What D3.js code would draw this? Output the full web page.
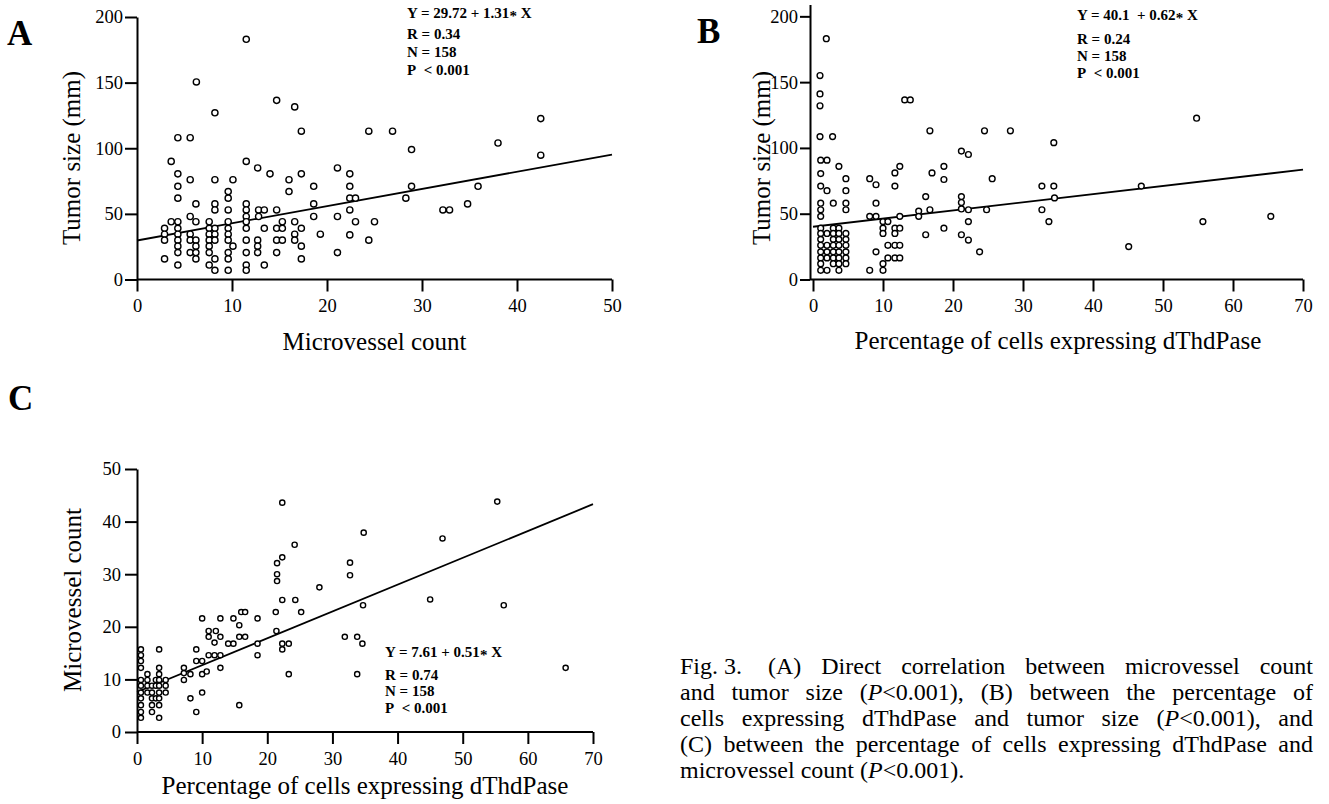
<!DOCTYPE html>
<html>
<head>
<meta charset="utf-8">
<script src="https://cdn.jsdelivr.net/npm/d3@7"></script>
<style>
  body { margin: 0; background: #fff; }
  text { font-family: "Liberation Serif", "Times New Roman", serif; fill: #000; }
</style>
</head>
<body>
<script>
// Canvas size
const w = 1329;
const h = 804;

// Panel A: microvessel count (x) vs tumor size in mm (y)
const panelAPoints = [
  [11.5, 183], [6.25, 150.5], [8.2, 127], [14.7, 136.5], [16.6, 131.5], [17.3, 113],
  [4.3, 108], [5.6, 108], [3.6, 90], [11.5, 90], [12.7, 85], [14.0, 80.5], [4.3, 80.5],
  [17.3, 80.5], [5.6, 76], [8.2, 76], [10.1, 76], [16.0, 76], [4.3, 71], [18.6, 71],
  [9.6, 67], [16.0, 67], [4.3, 62], [9.6, 62], [6.2, 57.6], [8.2, 57.6], [11.5, 57.6],
  [18.6, 57.6], [8.2, 53], [9.6, 53], [11.5, 53], [12.8, 53], [13.4, 53], [14.7, 53],
  [18.6, 48], [5.6, 48], [11.5, 48], [12.8, 48], [3.6, 44], [4.3, 44], [6.2, 44],
  [7.6, 44], [9.6, 44], [11.5, 44], [15.3, 44], [16.6, 44], [2.9, 39], [4.3, 39],
  [7.6, 39], [8.2, 39], [9.6, 39], [11.5, 39], [13.4, 39], [14.7, 39], [15.3, 39],
  [17.3, 39], [2.9, 34.5], [4.3, 34.5], [5.6, 34.5], [7.6, 34.5], [8.2, 34.5], [9.6, 34.5],
  [16.6, 34.5], [19.3, 34.5], [2.9, 30], [4.3, 30], [5.6, 30], [6.2, 30], [7.6, 30],
  [8.2, 30], [9.6, 30], [11.5, 30], [12.7, 30], [14.7, 30], [15.3, 30], [16.6, 30],
  [4.3, 25.4], [6.2, 25.4], [7.6, 25.4], [10.1, 25.4], [12.7, 25.4], [17.3, 25.4],
  [4.3, 20.5], [5.6, 20.5], [6.2, 20.5], [7.6, 20.5], [9.6, 20.5], [11.5, 20.5],
  [12.7, 20.5], [14.7, 20.5], [2.9, 15.7], [6.2, 15.7], [8.2, 15.7], [9.6, 15.7],
  [17.3, 15.7], [4.3, 11], [7.6, 11], [11.5, 11], [13.4, 11], [8.2, 7], [9.6, 7], [11.5, 7],
  [42.5, 122.6], [24.4, 113], [26.9, 113], [38.0, 104], [28.9, 99], [42.5, 94.7],
  [21.1, 85], [22.4, 80.5], [22.4, 71], [28.9, 71], [35.9, 71], [22.4, 62], [23.0, 62],
  [28.3, 62], [22.4, 53], [32.2, 53], [32.9, 53], [34.8, 57.6], [21.1, 48], [23.0, 44],
  [25.0, 44], [22.4, 34], [24.4, 30], [21.1, 20.5]
];

// Panel B: % cells expressing dThdPase (x) vs tumor size in mm (y)
const panelBPoints = [
  [1.9, 183], [1.0, 155], [1.0, 141], [1.0, 132], [1.0, 108.6], [2.8, 108.6],
  [13.1, 136.5], [13.9, 136.5], [16.7, 113], [24.5, 113], [28.2, 113], [34.4, 104],
  [54.8, 122.6], [1.1, 90.7], [2.0, 90.7], [3.7, 86], [1.1, 80.5], [4.7, 76.6], [8.1, 76.6],
  [9.0, 72], [11.7, 81], [12.4, 86], [17.0, 81], [18.7, 86], [18.7, 76], [21.2, 97.6],
  [22.2, 95], [25.6, 76.6], [1.1, 71], [2.0, 67.5], [4.7, 67.5], [11.7, 71], [1.1, 58],
  [2.9, 58], [4.7, 58], [9.0, 58], [1.1, 53], [4.7, 53], [1.1, 48], [8.1, 48], [9.0, 48],
  [12.4, 48], [15.1, 52], [15.1, 48], [16.1, 63], [16.7, 53], [21.2, 63], [21.2, 58.5],
  [21.2, 53.6], [22.2, 53], [24.8, 53], [22.2, 44], [16.1, 34], [18.7, 39], [21.2, 34],
  [22.2, 30], [23.8, 21], [32.7, 71], [34.4, 71], [34.5, 62], [32.7, 53], [46.9, 71],
  [33.7, 44], [55.7, 44], [65.4, 48], [45.1, 25],
  [1.1, 39], [1.1, 35], [1.1, 30.5], [1.1, 26], [1.1, 21], [1.1, 16.4], [1.1, 12], [1.1, 7],
  [2.0, 35], [2.0, 26], [2.0, 21], [2.0, 16.4], [2.0, 7],
  [2.9, 39], [2.9, 35], [2.9, 30.5], [2.9, 26], [2.9, 21], [2.9, 16.4], [2.9, 12],
  [3.7, 39], [3.7, 35], [3.7, 30.5], [3.7, 26], [3.7, 21], [3.7, 16.4], [3.7, 12], [3.7, 7],
  [4.7, 35], [4.7, 30.5], [4.7, 26], [4.7, 21], [4.7, 16.4], [4.7, 12],
  [8.1, 7], [9.0, 21], [10.0, 44], [10.7, 44], [10.0, 39], [11.7, 39], [12.4, 39],
  [10.0, 35], [11.7, 35], [10.7, 26], [11.7, 26], [12.4, 26], [10.7, 16.4], [11.7, 16.4],
  [12.4, 16.4], [10.0, 12], [10.0, 7]
];

// Panel C: % cells expressing dThdPase (x) vs microvessel count (y)
const panelCPoints = [
  [22.3, 43.6], [55.3, 43.8], [34.8, 37.9], [46.9, 36.8], [24.2, 35.6], [22.3, 33.2],
  [21.5, 32.1], [32.7, 32.2], [21.5, 30], [21.5, 28.7], [32.7, 29.8], [28.0, 27.5],
  [45.0, 25.2], [34.7, 24.1], [56.3, 24.1], [22.3, 25.1], [24.3, 25.1], [25.2, 22.8],
  [21.3, 22.8], [10.0, 21.6], [12.8, 21.6], [14.8, 21.6], [16.0, 22.8], [16.6, 22.8],
  [18.5, 21.6], [15.7, 20.3], [11.0, 19.2], [12.1, 19.2], [11.0, 18.1], [12.8, 18.1],
  [15.7, 18.1], [16.6, 18.1], [11.9, 17.0], [14.0, 16.8], [14.8, 16.8], [18.5, 16.8],
  [22.3, 16.8], [23.3, 16.8], [31.9, 18.1], [33.8, 18.1], [34.6, 16.8], [21.4, 19.2],
  [22.3, 15.7], [9.1, 15.7], [11.0, 14.6], [11.9, 14.6], [12.8, 14.6], [18.5, 14.6],
  [9.1, 13.5], [10.0, 13.5], [12.8, 12.2], [7.2, 12.2], [7.2, 11.2], [8.2, 11.0],
  [10.0, 11.0], [10.7, 11.5], [23.3, 11.0], [33.8, 11.0], [7.2, 9.9], [8.2, 6.4],
  [10.0, 7.5], [9.1, 3.8], [15.7, 5.1], [65.8, 12.2],
  [0.6, 15.7], [0.6, 14.6], [0.6, 13.5], [0.6, 12.2], [0.6, 9.9], [0.6, 8.8], [0.6, 7.5],
  [0.6, 6.4], [0.6, 5.1], [0.6, 3.8], [0.6, 2.7],
  [1.6, 11.0], [1.6, 9.9], [1.6, 8.8], [1.6, 7.5],
  [2.3, 8.8], [2.3, 7.5], [2.3, 6.4], [2.3, 5.1], [2.3, 3.8],
  [2.9, 9.9], [2.9, 8.8], [2.9, 6.4],
  [3.4, 15.7], [3.4, 12.2], [3.4, 11.0], [3.4, 9.9], [3.4, 8.8], [3.4, 7.5], [3.4, 6.4],
  [3.4, 5.1], [3.4, 2.7],
  [4.4, 9.9], [4.4, 8.8], [4.4, 7.5]
];

// Regression fits [intercept, slope] and their printed statistics
const fitA = [29.72, 1.31];
const fitB = [40.1, 0.62];
const fitC = [7.61, 0.51];
const statsA = ['Y = 29.72 + 1.31', 'R = 0.34', 'N = 158', 'P\u00a0\u00a0< 0.001'];
const statsB = ['Y = 40.1\u00a0\u00a0+ 0.62', 'R = 0.24', 'N = 158', 'P\u00a0\u00a0< 0.001'];
const statsC = ['Y = 7.61 + 0.51', 'R = 0.74', 'N = 158', 'P\u00a0\u00a0< 0.001'];

// Tick values
const ticksAX = [0, 10, 20, 30, 40, 50];
const ticksTumor = [0, 50, 100, 150, 200];
const ticksPct = [0, 10, 20, 30, 40, 50, 60, 70];
const ticksCY = [0, 10, 20, 30, 40, 50];

// Caption, words per line; _P_ marks italic
const captionLines = [
  ['Fig.\u00a03.\u00a0', '(A)', 'Direct', 'correlation', 'between', 'microvessel', 'count'],
  ['and', 'tumor', 'size', '(_P_<0.001),', '(B)', 'between', 'the', 'percentage', 'of'],
  ['cells', 'expressing', 'dThdPase', 'and', 'tumor', 'size', '(_P_<0.001),', 'and'],
  ['(C)', 'between', 'the', 'percentage', 'of', 'cells', 'expressing', 'dThdPase', 'and'],
  ['microvessel', 'count', '(_P_<0.001).']
];

const svg = d3.select('body').append('svg').attr('width', w).attr('height', h);
svg.append('rect').attr('width', w).attr('height', h).attr('fill', '#fff');

const drawPanel = p => {
  const x = d3.scaleLinear().domain(p.xDomain).range(p.xRange);
  const y = d3.scaleLinear().domain(p.yDomain).range(p.yRange);
  const g = svg.append('g');

  // x axis
  const gx = g.append('g')
    .attr('transform', `translate(0,${p.yRange[0]})`)
    .call(d3.axisBottom(x).tickValues(p.xTicks).tickSize(12).tickSizeOuter(0).tickPadding(p.xPad));
  gx.select('.domain').attr('d', `M${p.yAxisX},0H${p.xRange[1]}`);

  // y axis
  const gy = g.append('g')
    .attr('transform', `translate(${p.yAxisX},0)`)
    .call(d3.axisLeft(y).tickValues(p.yTicks).tickSize(p.yTickSize).tickSizeOuter(0).tickPadding(p.yPad));

  [gx, gy].forEach(a => {
    a.attr('font-family', '"Liberation Serif", serif').attr('font-size', 18.5);
    a.select('.domain').attr('stroke-width', 2);
    a.selectAll('.tick line').attr('stroke-width', 2);
  });

  // regression line
  g.append('path')
    .datum(p.xDomain)
    .attr('fill', 'none')
    .attr('stroke', '#000')
    .attr('stroke-width', 1.8)
    .attr('d', d3.line().x(d => x(d)).y(d => y(p.fit[0] + p.fit[1] * d)));

  // data points
  g.selectAll('circle.pt')
    .data(p.points)
    .enter()
    .append('circle')
    .attr('class', 'pt')
    .attr('cx', d => x(d[0]))
    .attr('cy', d => y(d[1]))
    .attr('r', p.r)
    .attr('fill', '#fff')
    .attr('stroke', '#000')
    .attr('stroke-width', 1.4);

  // axis titles
  g.append('text')
    .attr('x', (p.xRange[0] + p.xRange[1]) / 2)
    .attr('y', p.xTitleY)
    .attr('text-anchor', 'middle')
    .attr('font-size', 25)
    .text(p.xTitle);
  g.append('text')
    .attr('transform', `translate(${p.yTitleX},${p.yTitleCY}) rotate(-90)`)
    .attr('text-anchor', 'middle')
    .attr('font-size', 25)
    .text(p.yTitle);

  // statistics block
  const st = g.append('g').attr('font-weight', 'bold').attr('font-size', 15);
  p.stats.forEach((s, i) => {
    const t = st.append('text').attr('x', p.statsX).attr('y', p.statsY[i]);
    t.append('tspan').text(s);
    if (i === 0) {
      t.append('tspan').attr('dy', 3).text('*');
      t.append('tspan').attr('dy', -3).text(' X');
    }
  });

  // panel letter
  g.append('text')
    .attr('x', p.letterPos[0])
    .attr('y', p.letterPos[1])
    .attr('font-size', 35)
    .attr('font-weight', 'bold')
    .text(p.letter);
};

drawPanel({
  letter: 'A', letterPos: [7, 45],
  points: panelAPoints, fit: fitA, stats: statsA,
  xDomain: [0, 50], xRange: [137, 612], yDomain: [0, 200], yRange: [279.5, 17],
  xTicks: ticksAX, yTicks: ticksTumor, yAxisX: 137, yTickSize: 12, yPad: 2, xPad: 7,
  r: 3.1, xTitle: 'Microvessel count', xTitleY: 350,
  yTitle: 'Tumor size (mm)', yTitleX: 80, yTitleCY: 158,
  statsX: 407, statsY: [18, 39, 57, 75]
});

drawPanel({
  letter: 'B', letterPos: [697, 43],
  points: panelBPoints, fit: fitB, stats: statsB,
  xDomain: [0, 70], xRange: [813, 1303], yDomain: [0, 209], yRange: [279.5, 4.5],
  xTicks: ticksPct, yTicks: ticksTumor, yAxisX: 810, yTickSize: 10, yPad: 2, xPad: 7,
  r: 2.9, xTitle: 'Percentage of cells expressing dThdPase', xTitleY: 349,
  yTitle: 'Tumor size (mm)', yTitleX: 770, yTitleCY: 158,
  statsX: 1077, statsY: [20, 44, 61, 78]
});

drawPanel({
  letter: 'C', letterPos: [8, 410],
  points: panelCPoints, fit: fitC, stats: statsC,
  xDomain: [0, 70], xRange: [137, 593], yDomain: [0, 50], yRange: [732, 469],
  xTicks: ticksPct, yTicks: ticksCY, yAxisX: 137, yTickSize: 12, yPad: 4, xPad: 8,
  r: 2.6, xTitle: 'Percentage of cells expressing dThdPase', xTitleY: 794,
  yTitle: 'Microvessel count', yTitleX: 81, yTitleCY: 600,
  statsX: 385, statsY: [657, 680, 696, 713]
});

// Caption, justified between x0 and x1
const capX0 = 680;
const capX1 = 1313;
const capG = svg.append('g').attr('font-size', 24);
captionLines.forEach((words, li) => {
  const baseY = 674 + li * 26;
  const items = words.map(wd => {
    const t = capG.append('text').attr('y', baseY);
    wd.split('_').forEach((part, k) => {
      if (part) t.append('tspan').attr('font-style', k % 2 ? 'italic' : 'normal').text(part);
    });
    return { t, len: t.node().getComputedTextLength() };
  });
  const total = d3.sum(items, d => d.len);
  const last = li === captionLines.length - 1;
  const gap = last ? 6 : (capX1 - capX0 - total) / (items.length - 1);
  let cx = capX0;
  items.forEach(d => {
    d.t.attr('x', cx);
    cx += d.len + gap;
  });
});
</script>
</body>
</html>
